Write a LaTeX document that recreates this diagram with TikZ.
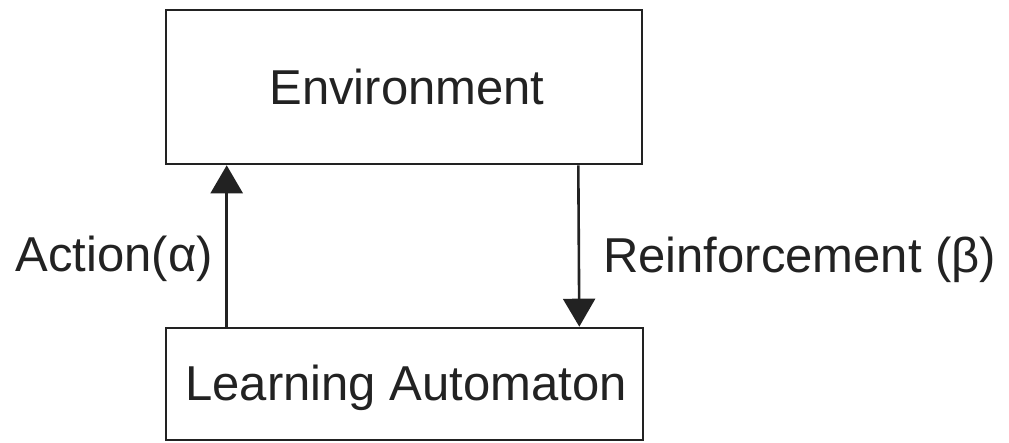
\documentclass[tikz,border=0pt]{standalone}
\usepackage{fontspec}
\setmainfont{Liberation Sans}
\usetikzlibrary{arrows.meta}
\definecolor{ink}{HTML}{222222}
\tikzset{
  block/.style={draw=ink, line width=2.6pt, inner sep=0pt, text=ink,
    font=\fontsize{49}{58}\selectfont},
  flow/.style={draw=ink, line width=2.6pt, -{Triangle[length=28pt,width=32pt]}},
  tag/.style={text=ink, inner sep=0pt, font=\fontsize{49}{58}\selectfont}
}
\begin{document}
\begin{tikzpicture}[x=1pt,y=1pt]
  \useasboundingbox (0,0) rectangle (1009,-442);
  % the two blocks
  \node[block, minimum width=476pt, minimum height=154pt] (env) at (404,-87) {};
  \node[tag, anchor=base] (envtext) at (407,-104) {Environment};
  \node[block, minimum width=477pt, minimum height=112pt] (la) at (404.5,-384) {};
  \node[tag, anchor=base] (latext) at (406,-400) {Learning Automaton};
  % feedback loop
  \draw[flow] ([xshift=62pt]la.north west) -- ([xshift=62pt]env.south west);
  \draw[flow] ([xshift=-65pt]env.south east) -- ([xshift=-65pt]la.north east);
  % loop labels
  \node[tag, anchor=base east] (act) at (213,-271) {Action(α)};
  \node[tag, anchor=base west] (rein) at (603,-272) {Reinforcement (β)};
\end{tikzpicture}
\end{document}
